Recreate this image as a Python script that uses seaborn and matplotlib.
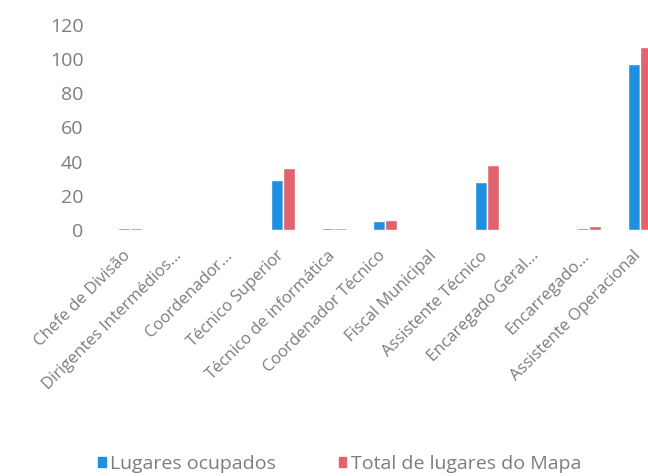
import pandas as pd
import matplotlib
matplotlib.use("Agg")
import matplotlib.pyplot as plt
import matplotlib.transforms as mtransforms
import seaborn as sns

# Data
cargos = [
    "Chefe de Divisão",
    "Dirigentes Intermédios...",
    "Coordenador...",
    "Técnico Superior",
    "Técnico de informática",
    "Coordenador Técnico",
    "Fiscal Municipal",
    "Assistente Técnico",
    "Encaregado Geral...",
    "Encarregado...",
    "Assistente Operacional",
]
ocupados = [1, 0, 0, 29, 1, 5, 0, 28, 0, 1, 97]
total_mapa = [1, 0, 0, 36, 1, 6, 0, 38, 0, 2, 107]
series = ["Lugares ocupados", "Total de lugares do Mapa"]
colors = ["#1f8fdf", "#e0636e"]
yticks = [0, 20, 40, 60, 80, 100, 120]

TEXT_COLOR = "#7d7d7d"


def main():
    df = pd.DataFrame({
        "cargo": cargos * 2,
        "valor": ocupados + total_mapa,
        "serie": [series[0]] * len(cargos) + [series[1]] * len(cargos),
    })

    sns.set_style("white")
    plt.rcParams["font.family"] = ["Open Sans", "DejaVu Sans"]

    fig = plt.figure(figsize=(6.48, 4.76), dpi=100)
    ax = fig.add_axes([0.161, 0.517, 0.839, 0.431])

    sns.barplot(data=df, x="cargo", y="valor", hue="serie",
                palette=colors, width=0.47, saturation=1,
                ax=ax, legend=False)

    ax.set_xlim(-0.5, 10.16)
    ax.set_ylim(0, 120)
    ax.set_yticks(yticks)
    ax.set_xlabel("")
    ax.set_ylabel("")
    sns.despine(ax=ax, left=True, bottom=True)

    ax.tick_params(axis="y", length=0, pad=15, labelsize=14,
                   labelcolor=TEXT_COLOR)
    ax.tick_params(axis="x", length=0, pad=13, labelsize=12,
                   labelcolor=TEXT_COLOR)
    # small shift to the left so the last label stays inside the figure
    shift = mtransforms.ScaledTranslation(-7 / 100, 0, fig.dpi_scale_trans)
    for lab in ax.get_xticklabels():
        lab.set_rotation(45)
        lab.set_ha("right")
        lab.set_rotation_mode("anchor")
        lab.set_transform(lab.get_transform() + shift)

    # legend at the bottom
    handles = [plt.Rectangle((0, 0), 1, 1, color=c) for c in colors]
    leg = fig.legend(handles, series, loc="center left",
                     bbox_to_anchor=(0.151, 12 / 476), ncol=2, frameon=False,
                     borderpad=0, borderaxespad=0,
                     handlelength=0.4, handleheight=0.4, handletextpad=0.25,
                     columnspacing=3.2, fontsize=14)
    for t in leg.get_texts():
        t.set_color(TEXT_COLOR)

    fig.savefig("out.png", dpi=100, facecolor="white")
    plt.close(fig)


if __name__ == "__main__":
    main()
